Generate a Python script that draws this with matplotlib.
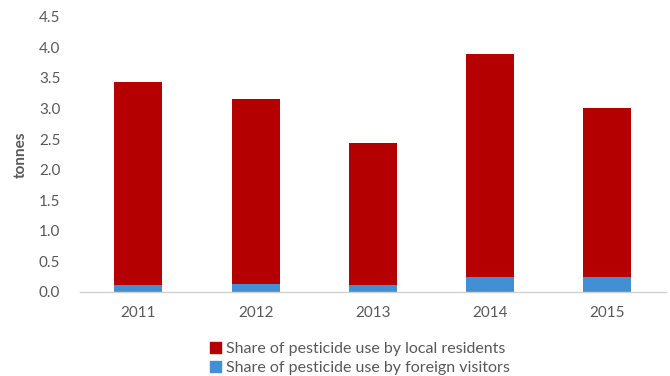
import matplotlib.pyplot as plt
from matplotlib.patches import Patch
import numpy as np

years = ["2011", "2012", "2013", "2014", "2015"]
local_residents = [3.32, 3.02, 2.32, 3.64, 2.77]
foreign_visitors = [0.11, 0.13, 0.11, 0.25, 0.24]

RED = "#b40000"
BLUE = "#4190d3"
GRAY = "#595959"

plt.rcParams["font.family"] = ["Lato", "DejaVu Sans"]

fig = plt.figure(figsize=(6.7, 3.76), dpi=100)
ax = fig.add_axes([0.119, 0.224, 0.875, 0.731])

x = np.arange(len(years))
ax.bar(x, foreign_visitors, width=0.41, color=BLUE, zorder=2)
ax.bar(x, local_residents, width=0.41, bottom=foreign_visitors, color=RED, zorder=2)

ax.set_xlim(-0.5, len(years) - 0.5)
ax.set_ylim(0, 4.5)
ax.set_yticks(np.arange(0, 4.51, 0.5))
ax.set_yticklabels([f"{v:.1f}" for v in np.arange(0, 4.51, 0.5)])
ax.set_xticks(x)
ax.set_xticklabels(years)
ax.tick_params(axis="both", length=0, labelsize=11, colors=GRAY)
ax.tick_params(axis="y", pad=14)
ax.tick_params(axis="x", pad=10)

for side in ["top", "right", "left"]:
    ax.spines[side].set_visible(False)
ax.spines["bottom"].set_color("#d0d0d0")
ax.spines["bottom"].set_linewidth(1.0)

ax.set_ylabel("tonnes", fontsize=11, fontweight="bold", color=GRAY, labelpad=8)

handles = [
    Patch(color=RED, label="Share of pesticide use by local residents"),
    Patch(color=BLUE, label="Share of pesticide use by foreign visitors"),
]
fig.legend(
    handles=handles,
    loc="upper left",
    bbox_to_anchor=(0.314, 0.09),
    frameon=False,
    fontsize=11.5,
    labelcolor=GRAY,
    handlelength=0.65,
    handleheight=0.65,
    handletextpad=0.3,
    labelspacing=0.3,
    borderaxespad=0,
    borderpad=0,
)

fig.savefig("out.png", dpi=100)
